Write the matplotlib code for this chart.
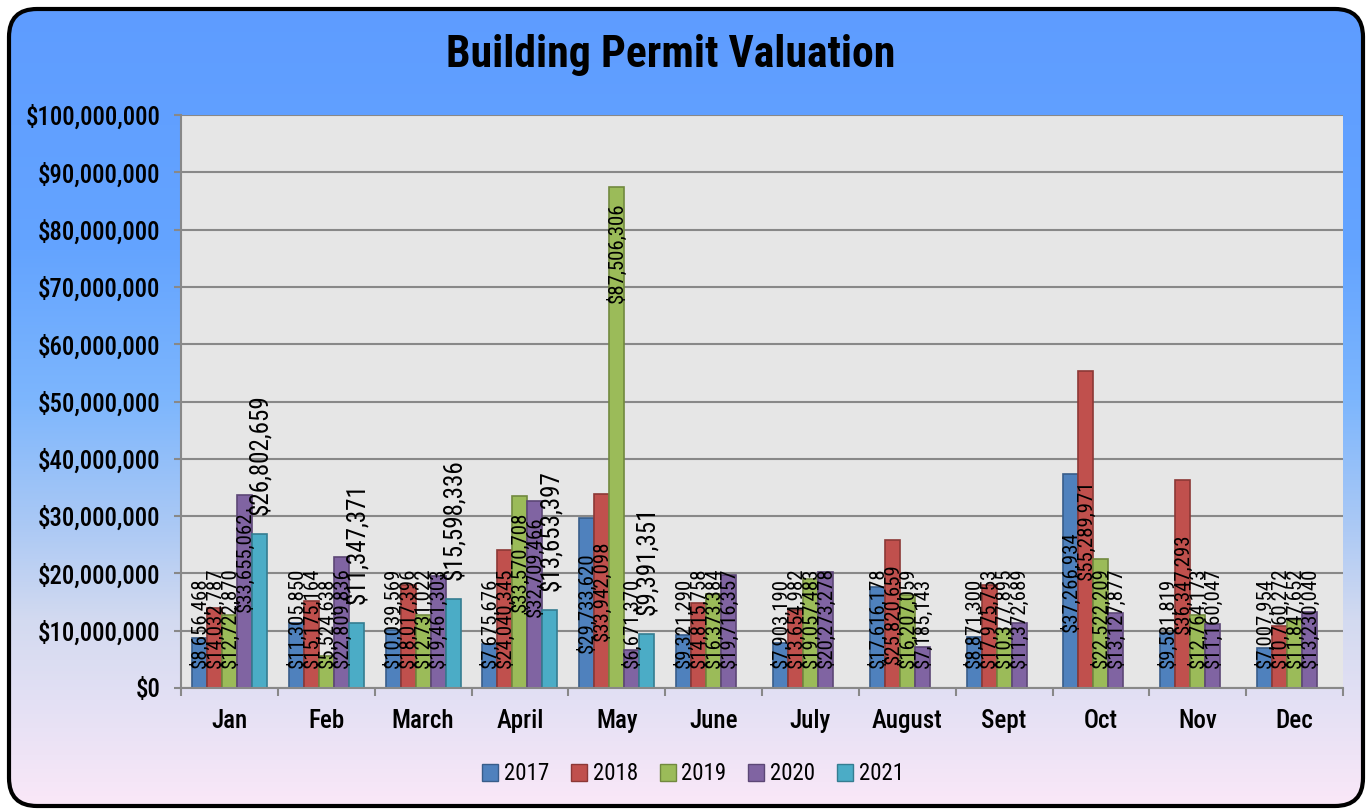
import numpy as np
import matplotlib
matplotlib.use("Agg")
import matplotlib.pyplot as plt
from matplotlib.patches import FancyBboxPatch, Patch
from matplotlib.ticker import FuncFormatter, FixedLocator

plt.rcParams['font.family'] = ['Roboto Condensed', 'Archivo Narrow', 'DejaVu Sans']

months = ["Jan", "Feb", "March", "April", "May", "June", "July",
          "August", "Sept", "Oct", "Nov", "Dec"]
years = ["2017", "2018", "2019", "2020", "2021"]

val_2017 = [8656468, 11305850, 10039569, 7675676, 29733620, 9321290,
            7903190, 17616178, 8871300, 37266934, 9581819, 7007954]
val_2018 = [14032787, 15175164, 18017396, 24040345, 33942098, 14815758,
            13654982, 25820659, 17975753, 55289971, 36347293, 10760272]
val_2019 = [12722870, 5524638, 12731022, 33570708, 87506306, 16373384,
            19057483, 16207059, 10377895, 22522209, 12764173, 11847652]
val_2020 = [33655062, 22809836, 19461303, 32709466, 6671370, 19716357,
            20273278, 7185143, 11372689, 13127877, 11160047, 13230040]
val_2021 = [26802659, 11347371, 15598336, 13653397, 9391351,
            None, None, None, None, None, None, None]

series = [val_2017, val_2018, val_2019, val_2020, val_2021]
colors = ["#4f81bd", "#c0504d", "#9bbb59", "#8064a2", "#4bacc6"]
edges = ["#385d8a", "#8c3836", "#71893f", "#5c4776", "#357d91"]
# how excel placed the data labels for each series
label_mode = ["center", "center", "end", "end", "outside"]

W, H = 1372, 809
fig = plt.figure(figsize=(W / 100, H / 100), dpi=100)
fig.patch.set_facecolor("white")

# background with rounded frame and vertical gradient
bg = fig.add_axes([0, 0, 1, 1], zorder=-5)
bg.set_xlim(0, W)
bg.set_ylim(H, 0)
bg.axis("off")
stops_y = [0, 250, 400, 520, 620, 700, 809]
stops_c = ["#5e9cff", "#64a4ff", "#7db6fd", "#a9c8f5", "#d3daf0", "#e3e0f4", "#fbe8f8"]
rgb = np.array([matplotlib.colors.to_rgb(c) for c in stops_c])
yy = np.arange(H)
grad = np.stack([np.interp(yy, stops_y, rgb[:, k]) for k in range(3)], axis=-1)
grad = grad[:, None, :]
frame = FancyBboxPatch((9, 9), W - 18, H - 12,
                       boxstyle="round,pad=0,rounding_size=28",
                       facecolor="none", edgecolor="black", linewidth=3)
bg.add_patch(frame)
im = bg.imshow(grad, extent=[0, W, H, 0], aspect="auto", zorder=0)
im.set_clip_path(frame)

ax = fig.add_axes([181 / W, 1 - 688 / H, (1343 - 181) / W, (688 - 115) / H])
ax.set_facecolor("#e6e6e6")
ax.set_xlim(-0.5, 11.5)
ax.set_ylim(0, 100000000)

ax.yaxis.set_major_locator(FixedLocator(np.arange(0, 100000001, 10000000)))
ax.yaxis.set_major_formatter(FuncFormatter(lambda v, p: "${:,.0f}".format(v)))
ax.grid(axis="y", color="#888888", linewidth=1.5, zorder=0)
ax.set_axisbelow(True)

for s in ["top", "right"]:
    ax.spines[s].set_visible(False)
for s in ["left", "bottom"]:
    ax.spines[s].set_color("#888888")
    ax.spines[s].set_linewidth(1.5)

ax.tick_params(axis="y", length=5, width=1.5, color="#888888", pad=10,
               labelsize=17.8)
x = np.arange(len(months))
ax.set_xticks(x)
ax.set_xticklabels(months)
ax.set_xticks(np.arange(-0.5, 12, 1), minor=True)
ax.tick_params(axis="x", which="major", length=0, pad=15, labelsize=18)
ax.tick_params(axis="x", which="minor", length=6, width=1.5, color="#888888")
for lab in ax.get_xticklabels() + ax.get_yticklabels():
    lab.set_fontweight("medium")

bw = 0.155
offsets = (np.arange(5) - 2) * bw
for i, vals in enumerate(series):
    v = np.array([np.nan if a is None else a for a in vals], dtype=float)
    ax.bar(x + offsets[i], v, width=bw, color=colors[i], edgecolor=edges[i],
           linewidth=1.2, zorder=2, label=years[i])

fig.canvas.draw()
renderer = fig.canvas.get_renderer()
px = 100000000 / ax.get_window_extent(renderer).height  # data units per pixel
floor = 20 * px

for i, vals in enumerate(series):
    mode = label_mode[i]
    for j, val in enumerate(vals):
        if val is None:
            continue
        big = mode == "outside"
        t = ax.text(x[j] + offsets[i], 0, "${:,.0f}".format(val),
                    rotation=90, ha="center", va="bottom",
                    fontsize=18 if big else 15, zorder=4, color="black")
        h = t.get_window_extent(renderer).height * px
        if mode == "center":
            y0 = max(val / 2 - h / 2, floor)
        elif mode == "end":
            y0 = max(val - 16 * px - h, floor)
        else:
            y0 = val + 19 * px
        t.set_y(y0)

fig.text(671 / W, 1 - 55 / H, "Building Permit Valuation", ha="center",
         va="center", fontsize=31.5, fontweight="bold")

handles = [Patch(facecolor=colors[i], edgecolor=edges[i], label=years[i])
           for i in range(5)]
fig.legend(handles=handles, loc="center", bbox_to_anchor=(693 / W, 1 - 774 / H),
           ncol=5, frameon=False, fontsize=16.5, handlelength=0.7,
           handleheight=0.7, handletextpad=0.25, columnspacing=0.95)

fig.savefig("out.png", dpi=100)
